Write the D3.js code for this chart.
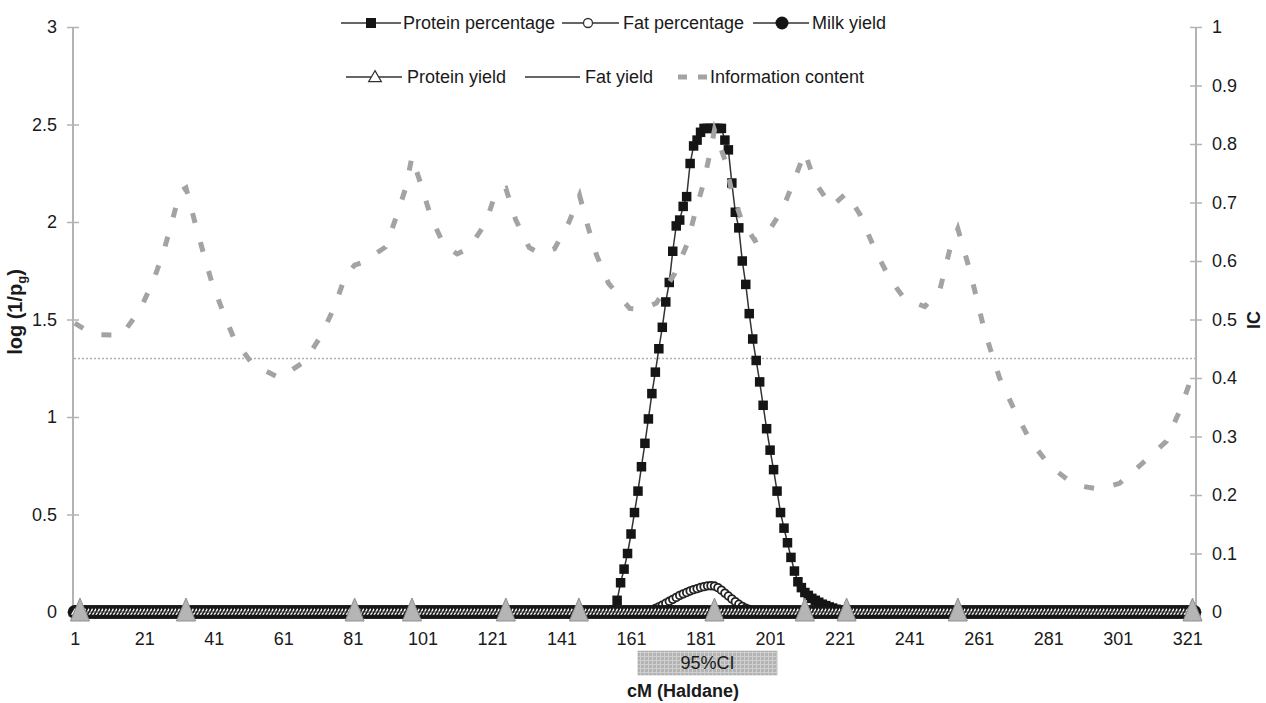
<!DOCTYPE html>
<html>
<head>
<meta charset="utf-8">
<script src="https://cdn.jsdelivr.net/npm/d3@7"></script>
<style>
  body { margin: 0; background: #fff; }
  text { font-family: "Liberation Sans", Arial, sans-serif; fill: #1a1a1a; }
</style>
</head>
<body>
<div id="chart"></div>
<script>
// category axis: one point per cM
const positions = d3.range(1, 324);
const xTickLabels = [1, 21, 41, 61, 81, 101, 121, 141, 161, 181, 201, 221, 241, 261, 281, 301, 321];
const leftTicks = [0, 0.5, 1, 1.5, 2, 2.5, 3];
const rightTicks = [0, 0.1, 0.2, 0.3, 0.4, 0.5, 0.6, 0.7, 0.8, 0.9, 1];

// Protein percentage: values from cM 153 to 223, zero elsewhere
const proteinPctStart = 153;
const proteinPctPeak = [
  0, 0.002, 0.005, 0.01, 0.06, 0.15, 0.22, 0.30, 0.40, 0.51,          // 153-162
  0.62, 0.745, 0.865, 0.99, 1.12, 1.23, 1.35, 1.46, 1.59, 1.69,       // 163-172
  1.85, 1.98, 2.01, 2.08, 2.13, 2.30, 2.39, 2.42, 2.46, 2.48,         // 173-182
  2.48, 2.48, 2.48, 2.48, 2.48, 2.42, 2.37, 2.20, 2.05, 1.97,         // 183-192
  1.80, 1.68, 1.53, 1.40, 1.29, 1.18, 1.06, 0.94, 0.83, 0.73,         // 193-202
  0.62, 0.51, 0.43, 0.355, 0.28, 0.21, 0.155, 0.125, 0.10, 0.085,     // 203-212
  0.07, 0.06, 0.05, 0.04, 0.033, 0.026, 0.02, 0.014, 0.009, 0.005,    // 213-222
  0.002                                                               // 223
];

// Fat percentage: small bump from cM 165 to 198, zero elsewhere
const fatPctStart = 165;
const fatPctPeak = [
  0, 0.005, 0.01, 0.018, 0.026, 0.035, 0.045, 0.055, 0.065, 0.075,
  0.085, 0.093, 0.10, 0.108, 0.115, 0.12, 0.126, 0.13, 0.134, 0.135,
  0.133, 0.125, 0.112, 0.097, 0.082, 0.067, 0.053, 0.04, 0.029, 0.02,
  0.013, 0.008, 0.004, 0.002
];

// Milk yield, protein yield and fat yield stay at 0 over the whole chromosome
const milkYieldValue = 0;
const proteinYieldValue = 0;
const fatYieldValue = 0;

// Information content (right axis), read at these cM
const icCM = [1, 6.4, 14.5, 19.8, 23.6, 26.6, 29, 31.3, 33, 35.4, 37.8, 40.3, 43.4, 46.9, 52.2, 59.9,
  67.3, 72, 75.8, 78.8, 81.5, 84, 90.4, 93.4, 96.2, 98, 100.9, 103.4, 107.2, 111, 114.4, 119.2,
  122.1, 125, 127.8, 131.7, 135, 139, 143.2, 146.2, 148.5, 151.1, 154.5, 160.6, 164, 168.3,
  173.6, 177, 179.3, 181.7, 183.6, 185, 188, 189.9, 192.8, 196.6, 199.9, 204.7, 208.1, 211,
  213.8, 218.6, 223, 226.8, 231.1, 235.4, 239.7, 245.5, 249.8, 252.7, 255, 258.4, 262.7, 267,
  271.3, 275.7, 281.4, 288.6, 295.8, 301.5, 307.3, 315, 318.8, 322.5];
const icValue = [0.494, 0.474, 0.473, 0.517, 0.566, 0.617, 0.668, 0.719, 0.725, 0.670, 0.618, 0.566, 0.517, 0.466, 0.423, 0.400,
  0.429, 0.474, 0.523, 0.574, 0.593, 0.598, 0.624, 0.674, 0.725, 0.778, 0.725, 0.676, 0.627, 0.612, 0.622, 0.665,
  0.717, 0.724, 0.671, 0.623, 0.612, 0.621, 0.667, 0.712, 0.661, 0.610, 0.562, 0.519, 0.517, 0.528,
  0.579, 0.627, 0.679, 0.730, 0.781, 0.824, 0.773, 0.721, 0.670, 0.635, 0.644, 0.690, 0.741, 0.786,
  0.736, 0.693, 0.716, 0.68, 0.62, 0.57, 0.535, 0.522, 0.55, 0.62, 0.655, 0.585, 0.48, 0.40,
  0.345, 0.294, 0.25, 0.217, 0.21, 0.22, 0.25, 0.292, 0.344, 0.405];

// genetic markers (grey triangles on the baseline)
const markerCM = [2.5, 33, 81.5, 98, 125, 146, 185, 211, 223, 255, 322.5];

// 95% confidence interval and significance threshold
const ciRange = [163, 203];
const threshold = 1.3;

const W = 1266, H = 703;
const svg = d3.select("#chart").append("svg")
  .attr("width", W).attr("height", H);

const x = d3.scaleLinear().domain([0.5, 323.5]).range([73, 1196]);
const yL = d3.scaleLinear().domain([0, 3]).range([612, 27]);
const yR = d3.scaleLinear().domain([0, 1]).range([612, 27]);

const axisGrey = "#b3b3b3";

// grid fill for the CI box
const defs = svg.append("defs");
const pat = defs.append("pattern")
  .attr("id", "grid").attr("width", 4).attr("height", 4)
  .attr("patternUnits", "userSpaceOnUse");
pat.append("rect").attr("width", 4).attr("height", 4).attr("fill", "#b4b4b4");
pat.append("path").attr("d", "M0,0.5H4M0.5,0V4").attr("stroke", "#cfcfcf").attr("stroke-width", 1);

// left axis
const gL = svg.append("g").attr("transform", "translate(73,0)")
  .call(d3.axisLeft(yL).tickValues(leftTicks).tickSize(6).tickPadding(10).tickFormat(d3.format("~g")));
gL.select(".domain").attr("stroke", axisGrey).attr("stroke-width", 2).attr("d", "M0,27V612");
gL.selectAll(".tick line").attr("stroke", axisGrey).attr("stroke-width", 1.5).attr("x1", 6).attr("x2", -6);
gL.selectAll(".tick text").attr("font-size", 18).attr("fill", "#1a1a1a");

// right axis
const gR = svg.append("g").attr("transform", "translate(1196,0)")
  .call(d3.axisRight(yR).tickValues(rightTicks).tickSize(6).tickPadding(10).tickFormat(d3.format("~g")));
gR.select(".domain").attr("stroke", axisGrey).attr("stroke-width", 2).attr("d", "M0,27V612");
gR.selectAll(".tick line").attr("stroke", axisGrey).attr("stroke-width", 1.5).attr("x1", -6).attr("x2", 6);
gR.selectAll(".tick text").attr("font-size", 18).attr("fill", "#1a1a1a");

// x axis labels
const gX = svg.append("g").attr("transform", "translate(0,632)")
  .call(d3.axisBottom(x).tickValues(xTickLabels).tickSize(0).tickPadding(0).tickFormat(d3.format("d")));
gX.select(".domain").remove();
gX.selectAll(".tick text").attr("font-size", 18).attr("fill", "#1a1a1a");

// significance threshold
svg.append("line")
  .attr("x1", 74).attr("x2", 1195)
  .attr("y1", yL(threshold)).attr("y2", yL(threshold))
  .attr("stroke", "#b0b0b0").attr("stroke-width", 1.5).attr("stroke-dasharray", "2,2");

// series data
const proteinPct = positions.map(p => {
  const i = p - proteinPctStart;
  return { p, v: (i >= 0 && i < proteinPctPeak.length) ? proteinPctPeak[i] : 0 };
});
const fatPct = positions.map(p => {
  const i = p - fatPctStart;
  return { p, v: (i >= 0 && i < fatPctPeak.length) ? fatPctPeak[i] : 0 };
});
const milkYield = positions.map(p => ({ p, v: milkYieldValue }));
const proteinYield = positions.map(p => ({ p, v: proteinYieldValue }));
const fatYield = positions.map(p => ({ p, v: fatYieldValue }));

const line = d3.line().x(d => x(d.p)).y(d => yL(d.v));

// Protein percentage
svg.append("path").datum(proteinPct).attr("d", line)
  .attr("fill", "none").attr("stroke", "#333").attr("stroke-width", 1.5);
svg.append("g").selectAll("rect").data(proteinPct).join("rect")
  .attr("x", d => x(d.p) - 4.75).attr("y", d => yL(d.v) - 4.75)
  .attr("width", 9.5).attr("height", 9.5).attr("fill", "#151515");

// Fat percentage
svg.append("path").datum(fatPct).attr("d", line)
  .attr("fill", "none").attr("stroke", "#333").attr("stroke-width", 1.2);
svg.append("g").selectAll("circle").data(fatPct).join("circle")
  .attr("cx", d => x(d.p)).attr("cy", d => yL(d.v)).attr("r", 3.8)
  .attr("fill", "#fff").attr("stroke", "#222").attr("stroke-width", 1.8);

// Milk yield
svg.append("path").datum(milkYield).attr("d", line)
  .attr("fill", "none").attr("stroke", "#333").attr("stroke-width", 1.5);
svg.append("g").selectAll("circle").data(milkYield).join("circle")
  .attr("cx", d => x(d.p)).attr("cy", d => yL(d.v)).attr("r", 7)
  .attr("fill", "#151515");

// Protein yield
const tri = d3.symbol().type(d3.symbolTriangle).size(45);
svg.append("path").datum(proteinYield).attr("d", line)
  .attr("fill", "none").attr("stroke", "#333").attr("stroke-width", 1.5);
svg.append("g").selectAll("path").data(proteinYield).join("path")
  .attr("d", tri)
  .attr("transform", d => `translate(${x(d.p)},${yL(d.v) + 0.5})`)
  .attr("fill", "#fff").attr("stroke", "#1a1a1a").attr("stroke-width", 1.6);

// Fat yield
svg.append("path").datum(fatYield).attr("d", line)
  .attr("fill", "none").attr("stroke", "#333").attr("stroke-width", 1.2);

// Information content
const icLine = d3.line().x(d => x(d[0])).y(d => yR(d[1]));
svg.append("path").datum(icCM.map((c, i) => [c, icValue[i]])).attr("d", icLine)
  .attr("fill", "none").attr("stroke", "#a3a3a3").attr("stroke-width", 5)
  .attr("stroke-dasharray", "10,20");

// marker triangles
svg.append("g").selectAll("path").data(markerCM).join("path")
  .attr("d", d => `M${x(d)},598L${x(d) + 9.5},621L${x(d) - 9.5},621Z`)
  .attr("fill", "#b5b5b5").attr("stroke", "#8f8f8f").attr("stroke-width", 1);

// 95% CI box
svg.append("rect")
  .attr("x", x(ciRange[0])).attr("y", 651)
  .attr("width", x(ciRange[1]) - x(ciRange[0])).attr("height", 24)
  .attr("fill", "url(#grid)").attr("stroke", "#a0a0a0").attr("stroke-width", 0.5);
svg.append("text")
  .attr("x", (x(ciRange[0]) + x(ciRange[1])) / 2).attr("y", 669)
  .attr("text-anchor", "middle").attr("font-size", 18).text("95%CI");

// axis titles
svg.append("text").attr("x", 683).attr("y", 697)
  .attr("text-anchor", "middle").attr("font-size", 18).attr("font-weight", "bold")
  .text("cM (Haldane)");

const yt = svg.append("text")
  .attr("transform", "translate(22,312) rotate(-90)")
  .attr("text-anchor", "middle").attr("font-size", 20).attr("font-weight", "bold");
yt.append("tspan").text("log (1/p");
yt.append("tspan").attr("font-size", 13).attr("dy", 4).text("g");
yt.append("tspan").attr("dy", -4).text(")");

svg.append("text")
  .attr("transform", "translate(1260,320) rotate(-90)")
  .attr("text-anchor", "middle").attr("font-size", 18).attr("font-weight", "bold")
  .text("IC");

// legend
const lg = svg.append("g");
function legendLine(x1, x2, y) {
  lg.append("line").attr("x1", x1).attr("x2", x2).attr("y1", y).attr("y2", y)
    .attr("stroke", "#333").attr("stroke-width", 1.5);
}
function legendText(tx, y, label) {
  lg.append("text").attr("x", tx).attr("y", y + 6).attr("font-size", 18).text(label);
}
const r1 = 23, r2 = 77;
legendLine(341, 401, r1);
lg.append("rect").attr("x", 366).attr("y", r1 - 5).attr("width", 10).attr("height", 10).attr("fill", "#151515");
legendText(403, r1, "Protein percentage");
legendLine(562, 619, r1);
lg.append("circle").attr("cx", 588).attr("cy", r1).attr("r", 4.5)
  .attr("fill", "#fff").attr("stroke", "#333").attr("stroke-width", 1.3);
legendText(623, r1, "Fat percentage");
legendLine(753, 809, r1);
lg.append("circle").attr("cx", 782).attr("cy", r1).attr("r", 6.5).attr("fill", "#151515");
legendText(812, r1, "Milk yield");

legendLine(346, 402, r2);
lg.append("path").attr("d", d3.symbol().type(d3.symbolTriangle).size(70))
  .attr("transform", `translate(375,${r2 + 1})`)
  .attr("fill", "#fff").attr("stroke", "#333").attr("stroke-width", 1.2);
legendText(407, r2, "Protein yield");
legendLine(525, 580, r2);
legendText(585, r2, "Fat yield");
lg.append("line").attr("x1", 678).attr("x2", 707).attr("y1", r2).attr("y2", r2)
  .attr("stroke", "#a3a3a3").attr("stroke-width", 5).attr("stroke-dasharray", "9,11");
legendText(710, r2, "Information content");
</script>
</body>
</html>
